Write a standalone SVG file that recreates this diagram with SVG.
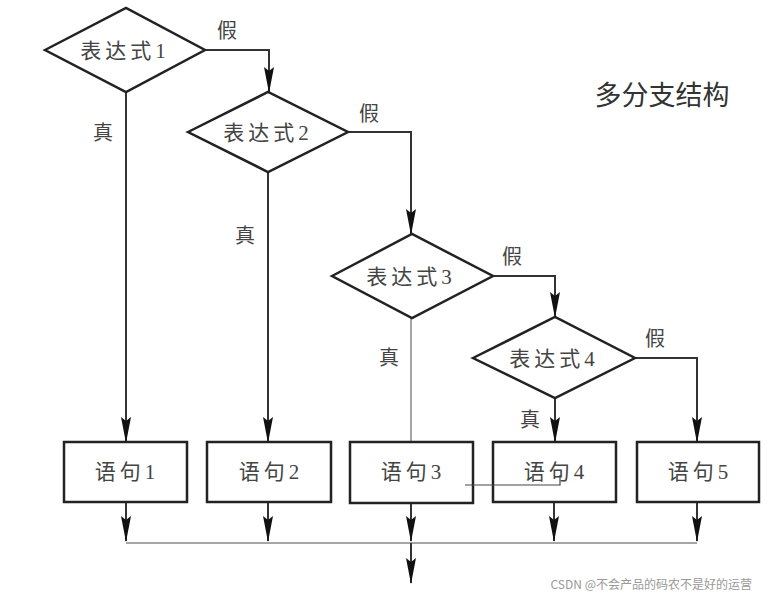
<svg xmlns="http://www.w3.org/2000/svg" width="768" height="599" viewBox="0 0 768 599">
<style>
.shape{fill:#fff;stroke:#222;stroke-width:2.5}
.line{fill:none;stroke:#333;stroke-width:2}
.thin{fill:none;stroke:#888;stroke-width:1.5}
.t{font-family:"Liberation Serif","Noto Sans CJK SC",serif;font-size:21px;letter-spacing:4px;fill:#444;text-anchor:middle;dominant-baseline:central}
.lbl{font-family:"Liberation Serif","Noto Sans CJK SC",serif;font-size:20px;fill:#444;text-anchor:middle;dominant-baseline:central}
</style>
<defs>
<marker id="ad" markerWidth="26" markerHeight="10" refX="25" refY="5" orient="auto" markerUnits="userSpaceOnUse" viewBox="0 0 26 10">
<path d="M0,0 L4,5 L0,10 L26,5 Z" fill="#111"/>
</marker>
</defs>
<rect width="768" height="599" fill="#fff"/>
<text x="662" y="93" style="font-family:'Noto Sans CJK SC','Liberation Sans',sans-serif;font-size:27px;fill:#333;text-anchor:middle;dominant-baseline:central">多分支结构</text>
<g id="connectors">
<polyline class="line" points="205,50 269,50 269,92" marker-end="url(#ad)"/>
<polyline class="line" points="348,132 411,132 411,234" marker-end="url(#ad)"/>
<polyline class="line" points="493,276 555,276 555,317" marker-end="url(#ad)"/>
<polyline class="line" points="635,358 697,358 697,442" marker-end="url(#ad)"/>
<line class="line" x1="126" y1="92" x2="126" y2="442" marker-end="url(#ad)"/>
<line class="line" x1="268" y1="172" x2="268" y2="442" marker-end="url(#ad)"/>
<line class="thin" x1="411" y1="318" x2="411" y2="442"/>
<line class="line" x1="555" y1="398" x2="555" y2="442" marker-end="url(#ad)"/>
<line class="line" x1="126" y1="502" x2="126" y2="541" marker-end="url(#ad)"/>
<line class="line" x1="268" y1="502" x2="268" y2="541" marker-end="url(#ad)"/>
<line class="line" x1="411" y1="503" x2="411" y2="541" marker-end="url(#ad)"/>
<line class="line" x1="554" y1="502" x2="554" y2="541" marker-end="url(#ad)"/>
<line class="line" x1="697" y1="502" x2="697" y2="541" marker-end="url(#ad)"/>
<line class="thin" x1="126" y1="543" x2="697" y2="543"/>
<line class="line" x1="411" y1="543" x2="411" y2="583" marker-end="url(#ad)"/>
<text class="lbl" x="227" y="31">假</text>
<text class="lbl" x="369" y="114">假</text>
<text class="lbl" x="512" y="257">假</text>
<text class="lbl" x="655" y="339">假</text>
<text class="lbl" x="103" y="133">真</text>
<text class="lbl" x="245" y="236">真</text>
<text class="lbl" x="389" y="358">真</text>
<text class="lbl" x="530" y="420">真</text>
</g>
<g id="d1"><polygon class="shape" points="45,50 126,8 205,50 126,92"/><text class="t" x="125" y="51">表达式1</text></g>
<g id="d2"><polygon class="shape" points="188,132 268,92 348,132 268,172"/><text class="t" x="268" y="133">表达式2</text></g>
<g id="d3"><polygon class="shape" points="332,276 412,234 493,276 412,318"/><text class="t" x="411" y="277">表达式3</text></g>
<g id="d4"><polygon class="shape" points="473,358 555,317 635,358 555,398"/><text class="t" x="554" y="359">表达式4</text></g>
<g id="b1"><rect class="shape" x="64" y="442" width="123" height="60"/><text class="t" x="127" y="472">语句1</text></g>
<g id="b2"><rect class="shape" x="207" y="442" width="124" height="60"/><text class="t" x="271" y="472">语句2</text></g>
<g id="b3"><rect class="shape" x="350" y="442" width="123" height="61"/><text class="t" x="413" y="472">语句3</text></g>
<g id="b4"><rect class="shape" x="493" y="442" width="123" height="60"/><text class="t" x="556" y="472">语句4</text></g>
<g id="b5"><rect class="shape" x="637" y="442" width="122" height="60"/><text class="t" x="700" y="472">语句5</text></g>
<polyline points="465,485 560,485 560,475" fill="none" stroke="#444" stroke-width="1.2"/>
<text x="752" y="583" style="font-family:'Noto Sans CJK SC','Liberation Sans',sans-serif;font-size:12px;fill:#999;text-anchor:end;dominant-baseline:central">CSDN @不会产品的码农不是好的运营</text>
</svg>
